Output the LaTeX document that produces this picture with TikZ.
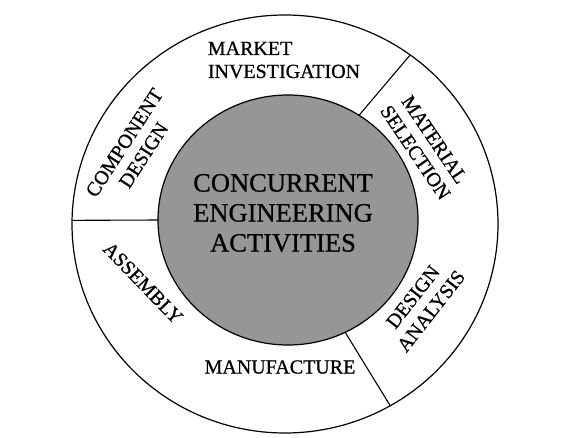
\documentclass[tikz,border=0pt]{standalone}
\usepackage{fontspec}
\setmainfont{Liberation Serif}
\newfontfamily\labelfont{Liberation Serif}[FakeBold=0.7]
\usetikzlibrary{calc}
\definecolor{coregray}{RGB}{150,150,150}
\begin{document}
\begin{tikzpicture}[x=1pt,y=-1pt,
  ring/.style={draw=black,line width=1.2pt},
  divider/.style={draw=black,line width=1.1pt},
  lbl/.style={font=\labelfont\fontsize{20}{23}\selectfont,align=center,inner sep=0pt},
  corelbl/.style={font=\labelfont\fontsize{26.5}{30}\selectfont,align=center,inner sep=0pt}]
\useasboundingbox (0,0) rectangle (561,438);
\coordinate (oc) at (285,224);
\coordinate (ic) at (288,220);
\draw[ring,fill=white] (oc) ellipse [x radius=213pt,y radius=209pt];
\coordinate (o1) at ($(oc)+(179:213pt and 209pt)$);
\coordinate (o2) at ($(oc)+(54:213pt and 209pt)$);
\coordinate (o3) at ($(oc)+(-60.4:213pt and 209pt)$);
\coordinate (i1) at ($(ic)+(180:128pt and 123pt)$);
\coordinate (i2) at ($(ic)+(57:128pt and 123pt)$);
\coordinate (i3) at ($(ic)+(-64:128pt and 123pt)$);
\draw[divider] (o1) -- (i1);
\draw[divider] (o2) -- (i2);
\draw[divider] (o3) -- (i3);
\draw[ring,fill=coregray] (ic) ellipse [x radius=130pt,y radius=125pt];
\node[lbl,align=left] (market) at (284,60) {MARKET\\INVESTIGATION};
\node[lbl,rotate=-56] (material) at (425,146) {MATERIAL\\SELECTION};
\node[lbl,rotate=52] (analysis) at (422,304) {DESIGN\\ANALYSIS};
\node[lbl] (manuf) at (280,367) {MANUFACTURE};
\node[lbl,rotate=-46] (assembly) at (143,283) {ASSEMBLY};
\node[lbl,rotate=57] (component) at (134,149) {COMPONENT\\DESIGN};
\node[corelbl] (core) at (283,213) {CONCURRENT\\ENGINEERING\\ACTIVITIES};
\end{tikzpicture}
\end{document}
